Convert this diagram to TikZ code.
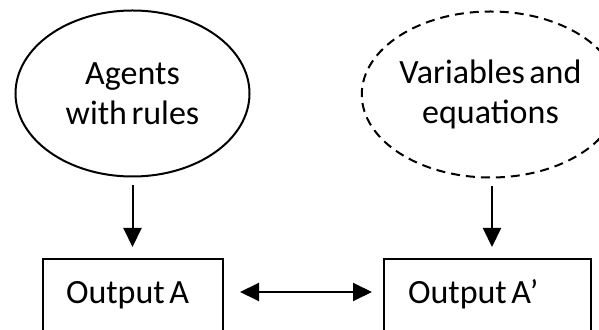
\documentclass[tikz,border=0pt]{standalone}
\usepackage{fontspec}
\setmainfont{Carlito}
\usetikzlibrary{arrows.meta,shapes.geometric}
\newcommand\myfontsel{\fontsize{34}{40}\selectfont\spaceskip=4.5pt plus 1pt\relax}
\begin{document}
\begin{tikzpicture}[x=1pt,y=1pt,
  every node/.style={font=\myfontsel},
  ell/.style={ellipse, draw, line width=2pt, minimum width=234pt, minimum height=166pt, inner sep=0pt, align=center},
  dashell/.style={ell, dash pattern=on 9pt off 6pt},
  outbox/.style={draw, line width=2pt, anchor=north west, inner ysep=0pt, text height=45pt, text depth=32pt, align=left, execute at begin node={\spaceskip=4.5pt plus 1pt\relax}},
  arr/.style={line width=2pt, -{Triangle[length=19pt,width=18pt]}},
  darr/.style={line width=2pt, {Triangle[length=19pt,width=18pt]}-{Triangle[length=19pt,width=18pt]}}
]
\useasboundingbox (0,0) rectangle (599,329);
\clip (0,0) rectangle (599,329);
\node[ell] (agents) at (132.5,235.5) {Agents\\with rules};
\node[dashell] (vars) at (490.5,234.5) {Variables and\\equations};
\node[outbox, inner xsep=23pt, text width=134pt] (outA) at (42,71) {Output A};
\node[outbox, inner xsep=24pt, text width=159pt] (outB) at (383,71) {Output A’};
\draw[arr] ([yshift=-8pt]agents.south) -- ([yshift=11pt]agents.south |- outA.north);
\draw[arr] ([xshift=1.5pt,yshift=-8pt]vars.south) -- ([xshift=1.5pt,yshift=11pt]vars.south |- outB.north);
\draw[darr] ([shift={(16pt,-34pt)}]outA.north east) -- ([shift={(-11pt,-34pt)}]outB.north west);
\end{tikzpicture}
\end{document}
